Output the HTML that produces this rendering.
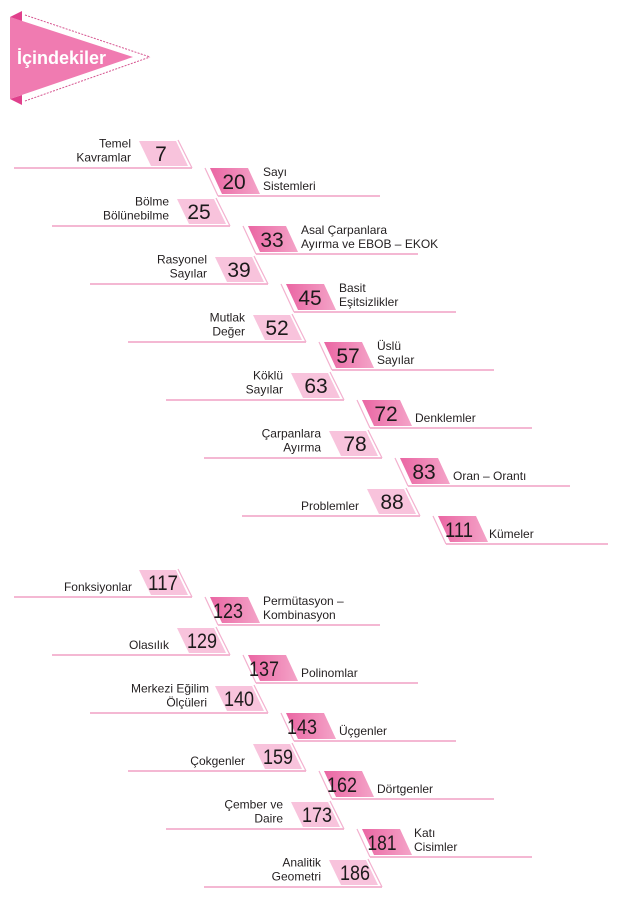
<!DOCTYPE html>
<html><head><meta charset="utf-8"><style>
html,body{margin:0;padding:0;background:#fff;}
svg{display:block;}
.ln{stroke:#f3aecd;stroke-width:1.8;}
.ol{stroke:#f3b0ce;stroke-width:1.2;}
.lt{fill:#f8c3dc;}
.num{font-family:"Liberation Sans",sans-serif;font-size:21px;fill:#1c1a1b;text-anchor:middle;}
.lb{font-family:"Liberation Sans",sans-serif;font-size:12px;fill:#231f20;}
.e{text-anchor:end;}
</style></head><body>
<svg width="619" height="900" viewBox="0 0 619 900" xmlns="http://www.w3.org/2000/svg">
<defs>
<linearGradient id="dk" x1="0" y1="0" x2="1" y2="0">
<stop offset="0" stop-color="#ea66a3"/><stop offset="1" stop-color="#f4a4c8"/>
</linearGradient>
<linearGradient id="lg" x1="0" y1="0" x2="1" y2="0">
<stop offset="0" stop-color="#f6bad6"/><stop offset="1" stop-color="#f9cfe3"/>
</linearGradient>
</defs>
<rect width="619" height="900" fill="#fff"/>
<!-- header pennant -->
<polygon points="10,17 133,57 10,99" fill="#f07bb1"/>
<polygon points="10,17 22,11 22,21" fill="#e0408c"/>
<polygon points="10,99 22,105 22,95" fill="#e0408c"/>
<line x1="25" y1="15" x2="150" y2="57" stroke="#d65590" stroke-width="1" stroke-dasharray="2,1.3"/>
<line x1="25" y1="101" x2="150" y2="57" stroke="#d65590" stroke-width="1" stroke-dasharray="2,1.3"/>
<text x="17" y="64" font-family="Liberation Sans,sans-serif" font-weight="bold" font-size="18" fill="#fff">İçindekiler</text>

<!-- GROUP 1 -->
<g transform="translate(0,0)">
<line class="ln" x1="14" y1="168" x2="192" y2="168"/>
<polygon class="lt" fill="url(#lg)" points="139,141 176,141 188,166 151,166"/>
<line class="ol" x1="178" y1="140" x2="192" y2="168"/>
<text class="num" x="161" y="161">7</text>
<text class="lb e" x="131" y="147.5">Temel</text>
<text class="lb e" x="131" y="161.5">Kavramlar</text>
</g>
<g transform="translate(0,0)">
<line class="ln" x1="218" y1="196" x2="380" y2="196"/>
<polygon points="210,168 248,168 260,194 222,194" fill="url(#dk)"/>
<line class="ol" x1="205" y1="168" x2="218" y2="196"/>
<text class="num" x="234" y="189">20</text>
<text class="lb" x="263" y="176">Sayı</text>
<text class="lb" x="263" y="190">Sistemleri</text>
</g>
<g transform="translate(38,58)">
<line class="ln" x1="14" y1="168" x2="192" y2="168"/>
<polygon class="lt" fill="url(#lg)" points="139,141 176,141 188,166 151,166"/>
<line class="ol" x1="178" y1="140" x2="192" y2="168"/>
<text class="num" x="161" y="161">25</text>
<text class="lb e" x="131" y="147.5">Bölme</text>
<text class="lb e" x="131" y="161.5">Bölünebilme</text>
</g>
<g transform="translate(38,58)">
<line class="ln" x1="218" y1="196" x2="380" y2="196"/>
<polygon points="210,168 248,168 260,194 222,194" fill="url(#dk)"/>
<line class="ol" x1="205" y1="168" x2="218" y2="196"/>
<text class="num" x="234" y="189">33</text>
<text class="lb" x="263" y="176">Asal Çarpanlara</text>
<text class="lb" x="263" y="190">Ayırma ve EBOB – EKOK</text>
</g>
<g transform="translate(76,116)">
<line class="ln" x1="14" y1="168" x2="192" y2="168"/>
<polygon class="lt" fill="url(#lg)" points="139,141 176,141 188,166 151,166"/>
<line class="ol" x1="178" y1="140" x2="192" y2="168"/>
<text class="num" x="163" y="161">39</text>
<text class="lb e" x="131" y="147.5">Rasyonel</text>
<text class="lb e" x="131" y="161.5">Sayılar</text>
</g>
<g transform="translate(76,116)">
<line class="ln" x1="218" y1="196" x2="380" y2="196"/>
<polygon points="210,168 248,168 260,194 222,194" fill="url(#dk)"/>
<line class="ol" x1="205" y1="168" x2="218" y2="196"/>
<text class="num" x="234" y="189">45</text>
<text class="lb" x="263" y="176">Basit</text>
<text class="lb" x="263" y="190">Eşitsizlikler</text>
</g>
<g transform="translate(114,174)">
<line class="ln" x1="14" y1="168" x2="192" y2="168"/>
<polygon class="lt" fill="url(#lg)" points="139,141 176,141 188,166 151,166"/>
<line class="ol" x1="178" y1="140" x2="192" y2="168"/>
<text class="num" x="163" y="161">52</text>
<text class="lb e" x="131" y="147.5">Mutlak</text>
<text class="lb e" x="131" y="161.5">Değer</text>
</g>
<g transform="translate(114,174)">
<line class="ln" x1="218" y1="196" x2="380" y2="196"/>
<polygon points="210,168 248,168 260,194 222,194" fill="url(#dk)"/>
<line class="ol" x1="205" y1="168" x2="218" y2="196"/>
<text class="num" x="234" y="189">57</text>
<text class="lb" x="263" y="176">Üslü</text>
<text class="lb" x="263" y="190">Sayılar</text>
</g>
<g transform="translate(152,232)">
<line class="ln" x1="14" y1="168" x2="192" y2="168"/>
<polygon class="lt" fill="url(#lg)" points="139,141 176,141 188,166 151,166"/>
<line class="ol" x1="178" y1="140" x2="192" y2="168"/>
<text class="num" x="164" y="161">63</text>
<text class="lb e" x="131" y="147.5">Köklü</text>
<text class="lb e" x="131" y="161.5">Sayılar</text>
</g>
<g transform="translate(152,232)">
<line class="ln" x1="218" y1="196" x2="380" y2="196"/>
<polygon points="210,168 248,168 260,194 222,194" fill="url(#dk)"/>
<line class="ol" x1="205" y1="168" x2="218" y2="196"/>
<text class="num" x="234" y="189">72</text>
<text class="lb" x="263" y="190">Denklemler</text>
</g>
<g transform="translate(190,290)">
<line class="ln" x1="14" y1="168" x2="192" y2="168"/>
<polygon class="lt" fill="url(#lg)" points="139,141 176,141 188,166 151,166"/>
<line class="ol" x1="178" y1="140" x2="192" y2="168"/>
<text class="num" x="165" y="161">78</text>
<text class="lb e" x="131" y="147.5">Çarpanlara</text>
<text class="lb e" x="131" y="161.5">Ayırma</text>
</g>
<g transform="translate(190,290)">
<line class="ln" x1="218" y1="196" x2="380" y2="196"/>
<polygon points="210,168 248,168 260,194 222,194" fill="url(#dk)"/>
<line class="ol" x1="205" y1="168" x2="218" y2="196"/>
<text class="num" x="234" y="189">83</text>
<text class="lb" x="263" y="190">Oran – Orantı</text>
</g>
<g transform="translate(228,348)">
<line class="ln" x1="14" y1="168" x2="192" y2="168"/>
<polygon class="lt" fill="url(#lg)" points="139,141 176,141 188,166 151,166"/>
<line class="ol" x1="178" y1="140" x2="192" y2="168"/>
<text class="num" x="164" y="161">88</text>
<text class="lb e" x="131" y="162">Problemler</text>
</g>
<g transform="translate(228,348)">
<line class="ln" x1="218" y1="196" x2="380" y2="196"/>
<polygon points="210,168 248,168 260,194 222,194" fill="url(#dk)"/>
<line class="ol" x1="205" y1="168" x2="218" y2="196"/>
<text class="num" x="231" y="189" textLength="28" lengthAdjust="spacingAndGlyphs">111</text>
<text class="lb" x="261" y="190">Kümeler</text>
</g>

<!-- GROUP 2 -->
<g transform="translate(0,429)">
<line class="ln" x1="14" y1="168" x2="192" y2="168"/>
<polygon class="lt" fill="url(#lg)" points="139,141 176,141 188,166 151,166"/>
<line class="ol" x1="178" y1="140" x2="192" y2="168"/>
<text class="num" x="163" y="161" textLength="30" lengthAdjust="spacingAndGlyphs">117</text>
<text class="lb e" x="132" y="162">Fonksiyonlar</text>
</g>
<g transform="translate(0,429)">
<line class="ln" x1="218" y1="196" x2="380" y2="196"/>
<polygon points="210,168 248,168 260,194 222,194" fill="url(#dk)"/>
<line class="ol" x1="205" y1="168" x2="218" y2="196"/>
<text class="num" x="228" y="189" textLength="30" lengthAdjust="spacingAndGlyphs">123</text>
<text class="lb" x="263" y="176">Permütasyon –</text>
<text class="lb" x="263" y="190">Kombinasyon</text>
</g>
<g transform="translate(38,487)">
<line class="ln" x1="14" y1="168" x2="192" y2="168"/>
<polygon class="lt" fill="url(#lg)" points="139,141 176,141 188,166 151,166"/>
<line class="ol" x1="178" y1="140" x2="192" y2="168"/>
<text class="num" x="164" y="161" textLength="30" lengthAdjust="spacingAndGlyphs">129</text>
<text class="lb e" x="131" y="162">Olasılık</text>
</g>
<g transform="translate(38,487)">
<line class="ln" x1="218" y1="196" x2="380" y2="196"/>
<polygon points="210,168 248,168 260,194 222,194" fill="url(#dk)"/>
<line class="ol" x1="205" y1="168" x2="218" y2="196"/>
<text class="num" x="226" y="189" textLength="30" lengthAdjust="spacingAndGlyphs">137</text>
<text class="lb" x="263" y="190">Polinomlar</text>
</g>
<g transform="translate(76,545)">
<line class="ln" x1="14" y1="168" x2="192" y2="168"/>
<polygon class="lt" fill="url(#lg)" points="139,141 176,141 188,166 151,166"/>
<line class="ol" x1="178" y1="140" x2="192" y2="168"/>
<text class="num" x="163" y="161" textLength="30" lengthAdjust="spacingAndGlyphs">140</text>
<text class="lb e" x="133" y="147.5">Merkezi Eğilim</text>
<text class="lb e" x="131" y="161.5">Ölçüleri</text>
</g>
<g transform="translate(76,545)">
<line class="ln" x1="218" y1="196" x2="380" y2="196"/>
<polygon points="210,168 248,168 260,194 222,194" fill="url(#dk)"/>
<line class="ol" x1="205" y1="168" x2="218" y2="196"/>
<text class="num" x="226" y="189" textLength="30" lengthAdjust="spacingAndGlyphs">143</text>
<text class="lb" x="263" y="190">Üçgenler</text>
</g>
<g transform="translate(114,603)">
<line class="ln" x1="14" y1="168" x2="192" y2="168"/>
<polygon class="lt" fill="url(#lg)" points="139,141 176,141 188,166 151,166"/>
<line class="ol" x1="178" y1="140" x2="192" y2="168"/>
<text class="num" x="164" y="161" textLength="30" lengthAdjust="spacingAndGlyphs">159</text>
<text class="lb e" x="131" y="162">Çokgenler</text>
</g>
<g transform="translate(114,603)">
<line class="ln" x1="218" y1="196" x2="380" y2="196"/>
<polygon points="210,168 248,168 260,194 222,194" fill="url(#dk)"/>
<line class="ol" x1="205" y1="168" x2="218" y2="196"/>
<text class="num" x="228" y="189" textLength="30" lengthAdjust="spacingAndGlyphs">162</text>
<text class="lb" x="263" y="190">Dörtgenler</text>
</g>
<g transform="translate(152,661)">
<line class="ln" x1="14" y1="168" x2="192" y2="168"/>
<polygon class="lt" fill="url(#lg)" points="139,141 176,141 188,166 151,166"/>
<line class="ol" x1="178" y1="140" x2="192" y2="168"/>
<text class="num" x="165" y="161" textLength="30" lengthAdjust="spacingAndGlyphs">173</text>
<text class="lb e" x="131" y="147.5">Çember ve</text>
<text class="lb e" x="131" y="161.5">Daire</text>
</g>
<g transform="translate(152,661)">
<line class="ln" x1="218" y1="196" x2="380" y2="196"/>
<polygon points="210,168 248,168 260,194 222,194" fill="url(#dk)"/>
<line class="ol" x1="205" y1="168" x2="218" y2="196"/>
<text class="num" x="230" y="189" textLength="29" lengthAdjust="spacingAndGlyphs">181</text>
<text class="lb" x="262" y="176">Katı</text>
<text class="lb" x="262" y="190">Cisimler</text>
</g>
<g transform="translate(190,719)">
<line class="ln" x1="14" y1="168" x2="192" y2="168"/>
<polygon class="lt" fill="url(#lg)" points="139,141 176,141 188,166 151,166"/>
<line class="ol" x1="178" y1="140" x2="192" y2="168"/>
<text class="num" x="165" y="161" textLength="30" lengthAdjust="spacingAndGlyphs">186</text>
<text class="lb e" x="131" y="147.5">Analitik</text>
<text class="lb e" x="131" y="161.5">Geometri</text>
</g>
</svg>
</body></html>
